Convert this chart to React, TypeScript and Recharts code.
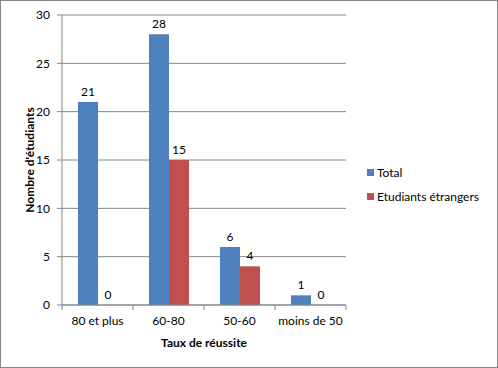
import {
    BarChart,
    Bar,
    CartesianGrid,
    XAxis,
    YAxis,
    LabelList,
} from "recharts";

const categories = ["80 et plus", "60-80", "50-60", "moins de 50"];
const totalValues = [21, 28, 6, 1];
const etrangersValues = [0, 15, 4, 0];
const yTicks = [0, 5, 10, 15, 20, 25, 30];

const seriesNames = ["Total", "Etudiants étrangers"];
const seriesColors = ["#4F81BD", "#C0504D"];

const data = categories.map((cat, i) => ({
    cat,
    total: totalValues[i],
    etrangers: etrangersValues[i],
}));

const FONT = "Lato, 'Open Sans', sans-serif";
const FS = 12;
const AXIS = "#868686";
const W = 498;
const H = 368;
const MARGIN = { top: 15, right: 152, left: 0, bottom: 13 };
const Y_WIDTH = 62;
const PLOT_W = W - MARGIN.left - MARGIN.right - Y_WIDTH;

function CategoryTick(props: any) {
    const { x, y, payload, index } = props;
    const half = PLOT_W / categories.length / 2;
    const axisY = y - 11;
    return (
        <g>
            <line x1={x - half} x2={x - half} y1={axisY} y2={axisY + 5} stroke={AXIS} />
            {index === categories.length - 1 && (
                <line x1={x + half} x2={x + half} y1={axisY} y2={axisY + 5} stroke={AXIS} />
            )}
            <text
                x={x}
                y={y}
                dy="0.71em"
                textAnchor="middle"
                fontSize={FS}
                fontFamily={FONT}
                fill="#000"
            >
                {payload.value}
            </text>
        </g>
    );
}

function LegendBox() {
    return (
        <div
            style={{
                position: "absolute",
                left: 367,
                top: 160,
                fontFamily: FONT,
                fontSize: FS,
                color: "#000",
            }}
        >
            {seriesNames.map((name, i) => (
                <div
                    key={name}
                    style={{ display: "flex", alignItems: "center", height: 24 }}
                >
                    <span
                        style={{
                            width: 7,
                            height: 7,
                            background: seriesColors[i],
                            marginRight: 3,
                        }}
                    />
                    <span>{name}</span>
                </div>
            ))}
        </div>
    );
}

const labelProps = {
    position: "top" as const,
    offset: 6,
    fontSize: FS,
    fontFamily: FONT,
    fill: "#000",
};

export default function App() {
    return (
        <div style={{ position: "relative", width: W, height: H, background: "#fff" }}>
            <style>{"body{margin:0}"}</style>
            <BarChart
                width={W}
                height={H}
                data={data}
                margin={MARGIN}
                barSize={20}
                barGap={0}
            >
                <CartesianGrid vertical={false} stroke={AXIS} />
                <XAxis
                    dataKey="cat"
                    height={50}
                    stroke={AXIS}
                    tickLine={false}
                    tickSize={5}
                    tickMargin={6}
                    tick={<CategoryTick />}
                    label={{
                        value: "Taux de réussite",
                        position: "insideBottom",
                        offset: 8,
                        fontSize: FS,
                        fontWeight: "bold",
                        fontFamily: FONT,
                        fill: "#000",
                    }}
                />
                <YAxis
                    width={Y_WIDTH}
                    domain={[0, 30]}
                    ticks={yTicks}
                    stroke={AXIS}
                    tickSize={5}
                    tickMargin={7}
                    tick={{ fontSize: FS, fontFamily: FONT, fill: "#000" }}
                    label={{
                        value: "Nombre d'étudiants",
                        angle: -90,
                        position: "center",
                        dx: -1,
                        fontSize: FS,
                        fontWeight: "bold",
                        fontFamily: FONT,
                        fill: "#000",
                    }}
                />
                <Bar
                    dataKey="total"
                    name={seriesNames[0]}
                    fill={seriesColors[0]}
                    minPointSize={0.01}
                    isAnimationActive={false}
                >
                    <LabelList dataKey="total" {...labelProps} />
                </Bar>
                <Bar
                    dataKey="etrangers"
                    name={seriesNames[1]}
                    fill={seriesColors[1]}
                    minPointSize={0.01}
                    isAnimationActive={false}
                >
                    <LabelList dataKey="etrangers" {...labelProps} />
                </Bar>
            </BarChart>
            <LegendBox />
            <div
                style={{
                    position: "absolute",
                    left: 0,
                    top: 0,
                    width: W,
                    height: H,
                    boxSizing: "border-box",
                    border: `1px solid ${AXIS}`,
                    pointerEvents: "none",
                }}
            />
        </div>
    );
}
